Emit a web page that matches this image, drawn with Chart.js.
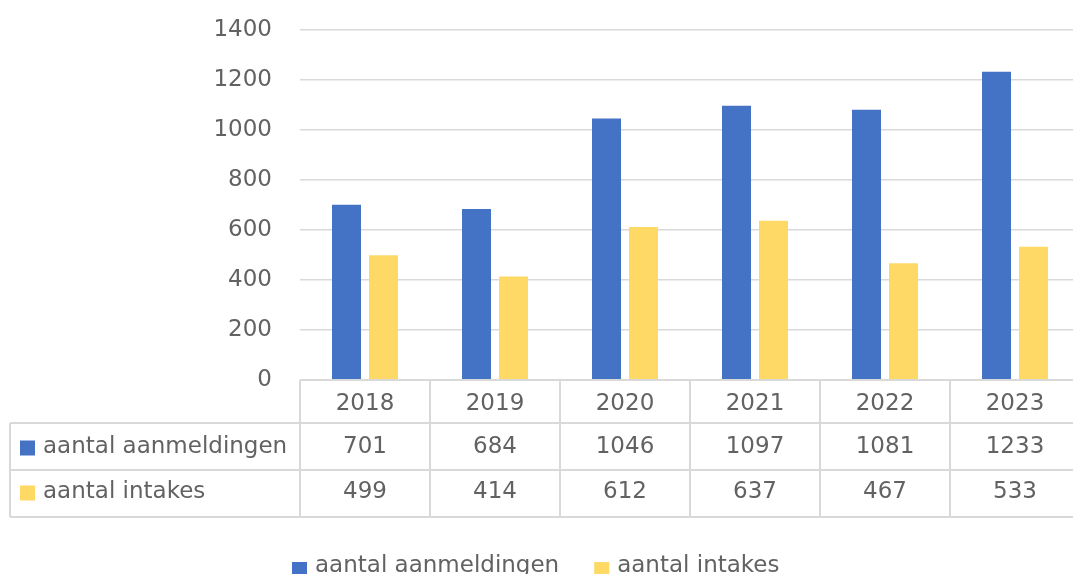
<!DOCTYPE html>
<html>
<head>
<meta charset="utf-8">
<script src="https://cdn.jsdelivr.net/npm/chart.js@4/dist/chart.umd.min.js"></script>
<style>
  html, body { margin: 0; padding: 0; background: #fff; overflow: hidden; }
  #wrap { width: 1073px; height: 574px; overflow: hidden; }
</style>
</head>
<body>
<div id="wrap"><canvas id="grafiek" width="1081" height="574"></canvas></div>
<script>
// gegevens
const jaren = ['2018', '2019', '2020', '2021', '2022', '2023'];
const aanmeldingen = [701, 684, 1046, 1097, 1081, 1233];
const intakes = [499, 414, 612, 637, 467, 533];
const reeksNamen = ['aantal aanmeldingen', 'aantal intakes'];
const kleuren = ['#4472C4', '#FFD966'];

const tekstKleur = '#626262';
const lijnKleur = '#D9D9D9';
const fontFamilie = '"DejaVu Sans", sans-serif';
const fontGrootte = 23;
const lettertype = fontGrootte + 'px ' + fontFamilie;

// tabel + legenda onder de grafiek
const tabelPlugin = {
  id: 'tabel',
  afterDraw(chart) {
    const ctx = chart.ctx;
    const xs = chart.scales.x;
    const area = chart.chartArea;
    const colW = xs.getPixelForValue(1) - xs.getPixelForValue(0);
    const rijen = [area.bottom, 423, 470, 517];
    const links = 10;

    ctx.save();
    ctx.strokeStyle = lijnKleur;
    ctx.lineWidth = 2;

    // horizontale lijnen
    ctx.beginPath();
    ctx.moveTo(area.left, rijen[0]); ctx.lineTo(area.right, rijen[0]);
    for (let r = 1; r < rijen.length; r++) {
      ctx.moveTo(links, rijen[r]); ctx.lineTo(area.right, rijen[r]);
    }
    // verticale lijnen
    ctx.moveTo(links, rijen[1]); ctx.lineTo(links, rijen[3]);
    for (let i = 0; i <= jaren.length; i++) {
      const xp = area.left + i * colW;
      ctx.moveTo(xp, rijen[0]); ctx.lineTo(xp, rijen[3]);
    }
    ctx.stroke();

    ctx.font = lettertype;
    ctx.fillStyle = tekstKleur;
    ctx.textAlign = 'center';
    ctx.textBaseline = 'middle';

    jaren.forEach((j, i) => {
      const xp = xs.getPixelForValue(i);
      ctx.fillText(j, xp, (rijen[0] + rijen[1]) / 2 + 3);
      ctx.fillText(String(aanmeldingen[i]), xp, (rijen[1] + rijen[2]) / 2 + 1);
      ctx.fillText(String(intakes[i]), xp, (rijen[2] + rijen[3]) / 2 - 1);
    });

    // rijlabels met kleurvakje
    const reeksen = chart.data.datasets;
    reeksen.forEach((ds, k) => {
      const yMid = (rijen[k + 1] + rijen[k + 2]) / 2 + (k === 0 ? 1 : -1);
      ctx.fillStyle = ds.backgroundColor;
      ctx.fillRect(20, yMid - 7, 15, 15);
      ctx.fillStyle = tekstKleur;
      ctx.textAlign = 'left';
      ctx.fillText(ds.label, 43, yMid);
    });

    // legenda onderaan
    let lx = 292;
    const ly = 566;
    reeksen.forEach(ds => {
      ctx.fillStyle = ds.backgroundColor;
      ctx.fillRect(lx, ly - 4, 15, 15);
      ctx.fillStyle = tekstKleur;
      ctx.textAlign = 'left';
      ctx.fillText(ds.label, lx + 23, ly);
      lx += 23 + ctx.measureText(ds.label).width + 35;
    });
    ctx.restore();
  }
};

new Chart(document.getElementById('grafiek'), {
  type: 'bar',
  data: {
    labels: jaren,
    datasets: [
      { label: reeksNamen[0], data: aanmeldingen, backgroundColor: kleuren[0] },
      { label: reeksNamen[1], data: intakes, backgroundColor: kleuren[1] }
    ]
  },
  options: {
    responsive: false,
    animation: false,
    layout: { padding: { top: 30, right: 1, bottom: 194, left: 0 } },
    datasets: { bar: { categoryPercentage: 0.569, barPercentage: 0.784 } },
    plugins: { legend: { display: false }, tooltip: { enabled: false } },
    scales: {
      x: { display: false },
      y: {
        min: 0,
        max: 1400,
        ticks: {
          stepSize: 200,
          color: tekstKleur,
          padding: 0,
          font: { family: fontFamilie, size: fontGrootte },
          callback: v => String(v)
        },
        grid: { color: lijnKleur, lineWidth: 1.5, drawTicks: true, tickLength: 28, tickColor: 'rgba(0,0,0,0)' },
        border: { display: false },
        afterFit(scale) { scale.width = 300; }
      }
    }
  },
  plugins: [tabelPlugin]
});
</script>
</body>
</html>
